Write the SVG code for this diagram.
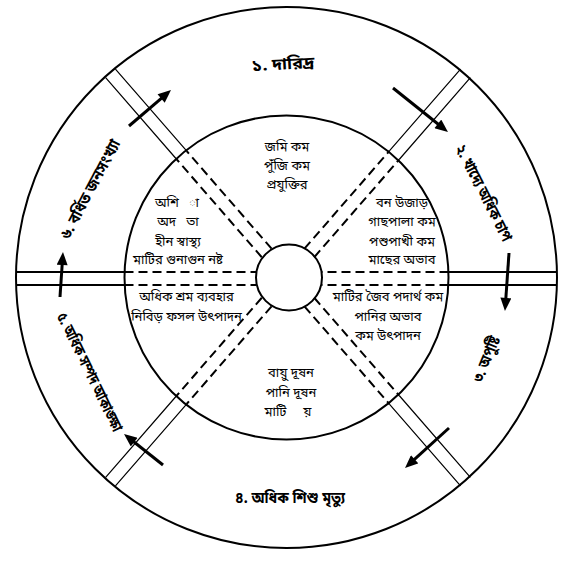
<svg xmlns="http://www.w3.org/2000/svg" xmlns:xlink="http://www.w3.org/1999/xlink" width="573" height="566" viewBox="0 0 573 566">
<style>
.c{fill:none;stroke:#000;stroke-width:2}
.hs{stroke:#000;stroke-width:2;fill:none}
.ds{stroke:#000;stroke-width:1.2;fill:none}
.dd{stroke:#000;stroke-width:2;stroke-dasharray:9 5;fill:none}
.ar{stroke:#000;stroke-width:3;fill:none;marker-end:url(#ah)}
.t{font-family:"Noto Sans Bengali","Noto Serif Bengali","Lohit Bengali","FreeSans","Noto Sans",sans-serif;font-size:13px;fill:#000;text-anchor:middle;white-space:pre}
.o{font-family:"Noto Sans Bengali","Noto Serif Bengali","Lohit Bengali","FreeSans","Noto Sans",sans-serif;font-size:16px;font-weight:bold;fill:#000;text-anchor:middle}
</style>
<defs>
<marker id="ah" markerUnits="userSpaceOnUse" markerWidth="14" markerHeight="11" refX="1" refY="5.5" orient="auto" viewBox="0 0 13 11">
<path d="M0,0 L13,5.5 L0,11 z" fill="#000"/>
</marker>
<g id="dband">
<path class="ds" d="M162,-6.5 H270.5 M162,6.5 H270.5"/>
<path class="dd" d="M32.5,-6.5 H162 M32.5,6.5 H162"/>
</g>
</defs>
<rect width="573" height="566" fill="#fff"/>
<g id="structure">
<circle class="c" cx="286.5" cy="277.5" r="270.5"/>
<circle class="c" cx="286.5" cy="277.5" r="162"/>
<path class="hs" d="M16,272 H124.5 M16,285 H124.5 M448.5,272 H557 M448.5,285 H557"/>
<path class="dd" d="M124.5,272 H256 M124.5,285 H256 M448.5,272 H322 M448.5,285 H322"/>
<use xlink:href="#dband" transform="translate(288,277.5) rotate(-49)"/>
<use xlink:href="#dband" transform="translate(288,277.5) rotate(49)"/>
<use xlink:href="#dband" transform="translate(288,277.5) rotate(131)"/>
<use xlink:href="#dband" transform="translate(288,277.5) rotate(229)"/>
<circle class="c" cx="289" cy="277.5" r="33" fill="#fff"/>
</g>
<g id="connectors">
<path class="ar" d="M129,126 L161.9,97.8"/>
<path class="ar" d="M393,88 L438.6,124.5"/>
<path class="ar" d="M509,253 L505.8,299"/>
<path class="ar" d="M449,428 L413.9,459.9"/>
<path class="ar" d="M163,465 L133.4,441.5"/>
<path class="ar" d="M60,297 L62.2,264"/>
</g>
<g id="node-top">
<text class="t" x="287" y="151">জমি কম</text>
<text class="t" x="287" y="170">পুঁজি কম</text>
<text class="t" x="287" y="189">প্রযুক্তির</text>
</g>
<g id="node-upper-left">
<text class="t" x="177" y="207">অশি   া</text>
<text class="t" x="178" y="226">অদ   তা</text>
<text class="t" x="178" y="246">হীন স্বাস্থ্য</text>
<text class="t" x="178" y="264">মাটির গুনাগুন নষ্ট</text>
</g>
<g id="node-upper-right">
<text class="t" x="402" y="207">বন উজাড়</text>
<text class="t" x="402" y="226">গাছপালা কম</text>
<text class="t" x="402" y="246">পশুপাখী কম</text>
<text class="t" x="402" y="264">মাছের অভাব</text>
</g>
<g id="node-lower-left">
<text class="t" x="186.5" y="301">অধিক শ্রম ব্যবহার</text>
<text class="t" x="186.5" y="321">নিবিড় ফসল উৎপাদন</text>
</g>
<g id="node-lower-right">
<text class="t" x="388" y="301">মাটির জৈব পদার্থ কম</text>
<text class="t" x="388" y="321">পানির অভাব</text>
<text class="t" x="388" y="340">কম উৎপাদন</text>
</g>
<g id="node-bottom">
<text class="t" x="291" y="377">বায়ু দূষন</text>
<text class="t" x="291" y="397">পানি দূষন</text>
<text class="t" x="288" y="416">মাটি     য়</text>
</g>
<g id="label-1"><text class="o" transform="translate(283,64) rotate(-3)" y="5.5" textLength="63" lengthAdjust="spacingAndGlyphs">১. দারিদ্র</text></g>
<g id="label-2"><text class="o" transform="translate(484,193) rotate(63)" y="5.5" textLength="106" lengthAdjust="spacingAndGlyphs">২. খাদ্যে অধিক চাপ</text></g>
<g id="label-3"><text class="o" transform="translate(486,359) rotate(-68)" y="5.5" textLength="48" lengthAdjust="spacingAndGlyphs">৩. অপুষ্টি</text></g>
<g id="label-4"><text class="o" transform="translate(290,497)" y="5.5" textLength="110" lengthAdjust="spacingAndGlyphs">৪. অধিক শিশু মৃত্যু</text></g>
<g id="label-5"><text class="o" transform="translate(90,372) rotate(64)" y="5.5" textLength="130" lengthAdjust="spacingAndGlyphs">৫. অধিক সম্পদ আকাঙ্ক্ষা</text></g>
<g id="label-6"><text class="o" transform="translate(90,189) rotate(-62)" y="5.5" textLength="110" lengthAdjust="spacingAndGlyphs">৬. বর্ধিত জনসংখ্যা</text></g>
</svg>
